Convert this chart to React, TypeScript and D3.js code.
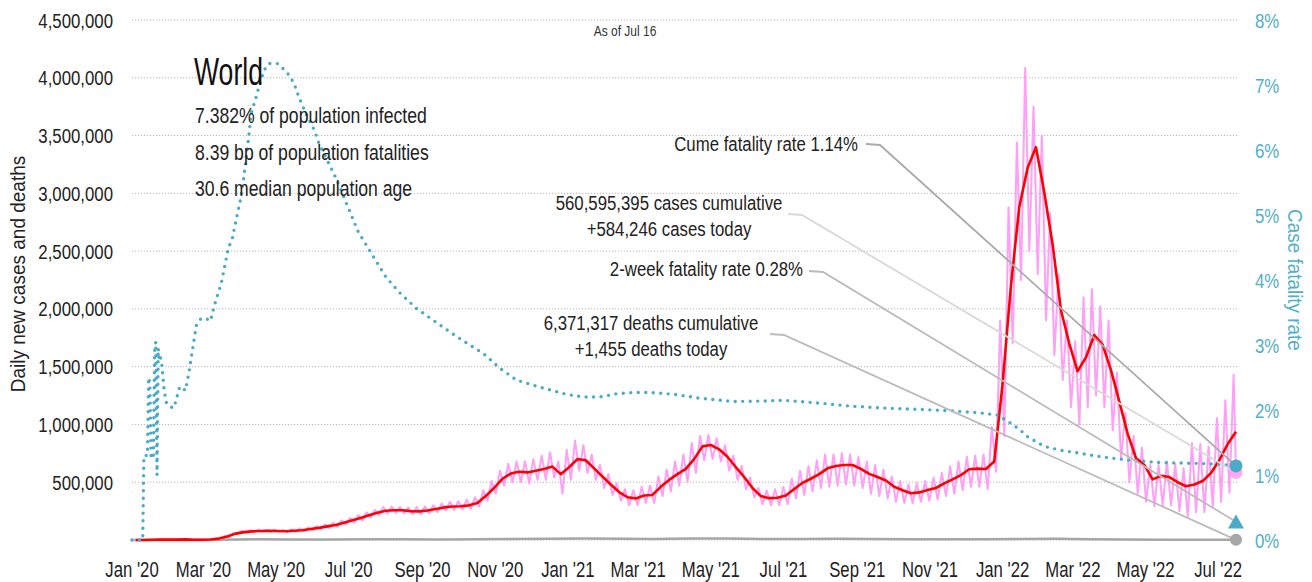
import React from 'react';
import * as d3 from 'd3';

const W = 1312;
const H = 582;
const FONT = "'Liberation Sans', Arial, sans-serif";

// weekly 7-day average of new cases (thousands), weeks ending Jan 4 2020 ... Jul 16 2022
const avgCases = [
  0, 0.5, 2, 3, 3, 3, 5, 2, 2, 4,
  12, 30, 55, 68, 75, 78, 80, 78, 76, 80,
  85, 95, 105, 118, 130, 150, 170, 190, 215, 236,
  253, 258, 258, 250, 248, 255, 268, 282, 290, 292,
  300, 320, 380, 450, 530, 575, 590, 585, 600, 615,
  635, 570, 630, 700, 690, 620, 550, 480, 415, 370,
  360, 385, 390, 460, 520, 570, 615, 700, 810, 822,
  785, 720, 630, 545, 450, 380, 362, 365, 385, 440,
  495, 530, 570, 620, 640, 649, 649, 615, 572, 545,
  515, 461, 430, 404, 412, 433, 450, 490, 525, 562,
  612, 618, 615, 680, 1350, 2200, 2880, 3220, 3400, 3010,
  2560, 1990, 1700, 1460, 1580, 1774, 1690, 1470, 1200, 920,
  710, 650, 525, 555, 545, 500, 465, 480, 510, 580,
  690, 830, 937,
];

// daily new cases: weekly highs and lows (thousands)
const dailyPeaks = [
  0, 1, 3, 4, 4, 5, 6, 3, 3, 5,
  16, 35, 62, 78, 85, 90, 88, 90, 85, 92,
  100, 110, 120, 135, 150, 170, 190, 215, 240, 260,
  285, 290, 285, 280, 285, 290, 300, 315, 330, 335,
  350, 370, 430, 510, 600, 660, 680, 680, 700, 730,
  760, 680, 780, 860, 820, 740, 650, 570, 490, 440,
  430, 460, 470, 550, 610, 680, 740, 840, 900, 910,
  880, 820, 730, 640, 540, 450, 430, 440, 460, 530,
  600, 640, 690, 740, 740, 750, 740, 720, 680, 650,
  610, 550, 510, 480, 490, 510, 540, 580, 640, 680,
  720, 730, 740, 980, 1900, 2880, 3440, 4085, 3750, 3500,
  2830, 2300, 1900, 1720, 2100, 2170, 2020, 1900, 1450, 1100,
  900, 800, 650, 650, 680, 660, 620, 840, 830, 810,
  1055, 1210, 1430,
];
const dailyTroughs = [
  0, 0, 1, 2, 2, 2, 2, 1, 1, 3,
  10, 25, 50, 60, 68, 70, 70, 70, 68, 72,
  78, 85, 95, 105, 115, 135, 150, 170, 195, 215,
  230, 235, 230, 225, 225, 230, 240, 255, 260, 265,
  270, 290, 340, 400, 470, 500, 500, 490, 520, 520,
  540, 400, 520, 600, 580, 520, 450, 390, 340, 300,
  300, 320, 320, 380, 420, 470, 500, 580, 690, 700,
  680, 600, 520, 440, 370, 310, 300, 300, 310, 360,
  390, 420, 450, 460, 470, 480, 470, 450, 400, 380,
  360, 330, 320, 320, 330, 340, 350, 380, 400, 430,
  460, 460, 440, 590, 900, 1700, 2250, 2500, 2300, 1900,
  1600, 1385, 1150, 1000, 1150, 1250, 1150, 950, 700, 500,
  400, 330, 290, 300, 300, 250, 200, 240, 240, 290,
  330, 410,
];
const casesToday = 584246;

// case fatality rate, [days since Jan 1 2020, percent]
const cfrPoints: [number, number][] = [
  [0, 0], [9, 0], [10, 1.3], [13, 1.3], [14, 2.5], [15, 2.4], [16, 1.25], [18, 1.3],
  [19, 2.9], [20, 3.05], [21, 1.0], [22, 2.95], [23, 2.75], [24, 2.8], [25, 2.7],
  [26, 2.5], [27, 2.3], [29, 2.1], [32, 2.05], [35, 2.03], [37, 2.15], [40, 2.36],
  [45, 2.3], [48, 2.6], [51, 2.95], [54, 3.3], [58, 3.41], [62, 3.41], [66, 3.37],
  [69, 3.6], [75, 3.95], [81, 4.5], [84, 4.62], [88, 4.97], [91, 5.23], [94, 5.59],
  [98, 6.2], [100, 6.56], [104, 6.8], [107, 7.0], [111, 7.23], [115, 7.33], [122, 7.33],
  [130, 7.2], [136, 7.03], [140, 6.82], [146, 6.56], [153, 6.31], [157, 6.1], [163, 5.88],
  [172, 5.54], [180, 5.18], [190, 4.74], [200, 4.44], [213, 4.05], [225, 3.8], [239, 3.56],
  [253, 3.38], [267, 3.2], [281, 3.03], [295, 2.87], [309, 2.64], [323, 2.46], [337, 2.38],
  [351, 2.31], [365, 2.24], [379, 2.2], [393, 2.2], [407, 2.25], [421, 2.27], [435, 2.27],
  [456, 2.24], [477, 2.18], [505, 2.13], [533, 2.14], [547, 2.15], [575, 2.11], [603, 2.06],
  [631, 2.03], [659, 2.01], [687, 1.99], [715, 1.95], [727, 1.92], [736, 1.82], [746, 1.69],
  [752, 1.59], [766, 1.44], [780, 1.38], [794, 1.34], [814, 1.28], [836, 1.23], [864, 1.19],
  [892, 1.18], [909, 1.17], [927, 1.14],
];

// daily deaths (thousands), mid-month Jan 2020 ... Jul 2022
const deathsMonthly = [
  0.01, 0.1, 1.5, 7, 4.5, 4.7, 5.5, 5.8, 5.4, 6, 9.5, 11.5,
  14, 10.5, 9.5, 12.5, 12.5, 9, 8.5, 10, 8.5, 7, 7, 7,
  9, 10.5, 6, 3.5, 2, 1.5, 1.8,
];
const deathsToday = 1455;
const cumeFatality = 1.14;
const twoWeekFatality = 0.28;

const leftTicks = [500000, 1000000, 1500000, 2000000, 2500000, 3000000, 3500000, 4000000, 4500000];
const rightTicks = [0, 1, 2, 3, 4, 5, 6, 7, 8];
const infoLines = [
  '7.382% of population infected',
  '8.39 bp of population fatalities',
  '30.6 median population age',
];

const start = new Date(2020, 0, 1);
const end = new Date(2022, 6, 16);

// condensed text: the regular sans squeezed horizontally
const T = ({ x, y, k = 0.8, rot = 0, anchor = 'start', size = 21, fill = '#222', dy, children }: any) => (
  <text
    transform={`translate(${x},${y})${rot ? ` rotate(${rot})` : ''} scale(${k},1)`}
    textAnchor={anchor}
    fontSize={size}
    fill={fill}
    dy={dy}
  >
    {children}
  </text>
);

export default function App() {
  const x = d3.scaleTime().domain([start, end]).range([132, 1236]);
  const yL = d3.scaleLinear().domain([0, 4500000]).range([540, 20]);
  const yR = d3.scaleLinear().domain([0, 8]).range([540, 20]);
  const day = (n: number) => d3.timeHour.offset(start, n * 24);

  const avgPts = avgCases.map((v, i) => [x(day(3 + 7 * i)), yL(v * 1000)] as [number, number]);
  const dailyPts: [number, number][] = [];
  dailyPeaks.forEach((v, i) => {
    dailyPts.push([x(day(1 + 7 * i)), yL(v * 1000)]);
    if (i < dailyTroughs.length) dailyPts.push([x(day(4.5 + 7 * i)), yL(dailyTroughs[i] * 1000)]);
  });
  dailyPts.push([x(end), yL(casesToday)]);
  const cfrPts = cfrPoints.map(([d, v]) => [x(day(d)), yR(v)] as [number, number]);
  const deathPts = deathsMonthly.map((v, i) => [x(new Date(2020, i, 15)), yL(v * 1000)] as [number, number]);
  deathPts.unshift([x(start), yL(0)]);
  deathPts.push([x(end), yL(deathsToday)]);

  const line = d3.line();
  const xTicks = d3.timeMonth.range(start, new Date(2022, 7, 1), 2);
  const fmt = d3.timeFormat("%b '%y");

  const ex = x(end);
  const annotations = [
    { lines: ['Cume fatality rate 1.14%'], tx: 858, ty: 151, anchor: 'end', from: [866, 144], color: '#aaa', to: yR(cumeFatality) },
    { lines: ['560,595,395 cases cumulative', '+584,246 cases today'], tx: 669, ty: 210, anchor: 'middle', from: [788, 214], color: '#d9d9d9', to: yL(casesToday) },
    { lines: ['2-week fatality rate 0.28%'], tx: 803, ty: 276, anchor: 'end', from: [809, 271], color: '#bbb', to: yR(twoWeekFatality) },
    { lines: ['6,371,317 deaths cumulative', '+1,455 deaths today'], tx: 651, ty: 330, anchor: 'middle', from: [770, 334], color: '#bbb', to: yL(deathsToday) },
  ];

  const tri = d3.symbol(d3.symbolTriangle, 110)();

  return (
    <svg width={W} height={H} style={{ position: 'absolute', left: 0, top: 0, fontFamily: FONT }}>
      <rect width={W} height={H} fill="#fff" />
      {[0, ...leftTicks].map(t => (
        <line key={t} x1={132} x2={1238} y1={yL(t)} y2={yL(t)} stroke="#b5b5b5" strokeWidth={1} strokeDasharray="1.2,1.8" />
      ))}
      {leftTicks.map(t => (
        <T key={t} x={113} y={yL(t)} dy="0.36em" anchor="end">{d3.format(',')(t)}</T>
      ))}
      {rightTicks.map(t => (
        <T key={t} x={1255} y={yR(t)} dy="0.36em" fill="#52aec9">{t}%</T>
      ))}
      {xTicks.map(d => (
        <T key={+d} x={x(d)} y={577} anchor="middle" size={22} k={0.76}>{fmt(d)}</T>
      ))}
      <T x={25} y={274} rot={-90} anchor="middle" size={20} k={0.95}>Daily new cases and deaths</T>
      <T x={1288} y={280} rot={90} anchor="middle" k={0.9} fill="#52aec9">Case fatality rate</T>
      <T x={625} y={36} anchor="middle" size={15} fill="#333">As of Jul 16</T>

      <path d={line(deathPts) || ''} fill="none" stroke="#a6a6a6" strokeWidth={2.5} />
      <path d={line(dailyPts) || ''} fill="none" stroke="#ff9ff5" strokeWidth={2} strokeLinejoin="round" />
      <path d={line(avgPts) || ''} fill="none" stroke="#ff0000" strokeWidth={2.6} strokeLinejoin="round" />
      <path d={line(cfrPts) || ''} fill="none" stroke="#4aabc7" strokeWidth={3.4} strokeDasharray="0,7.5" strokeLinecap="round" />

      <T x={194} y={85} size={38} k={0.7} fill="#111">World</T>
      {infoLines.map((t, i) => (
        <T key={t} x={195} y={123 + i * 36.5} size={22}>{t}</T>
      ))}

      {annotations.map(a => (
        <g key={a.lines[0]}>
          {a.lines.map((t, i) => (
            <T key={t} x={a.tx} y={a.ty + i * 26} anchor={a.anchor}>{t}</T>
          ))}
          <polyline points={`${a.from[0]},${a.from[1]} ${a.from[0] + 14},${a.from[1] + 1} ${ex},${a.to}`} fill="none" stroke={a.color} strokeWidth={1.8} />
        </g>
      ))}

      <circle cx={ex} cy={yL(deathsToday)} r={6} fill="#a6a6a6" />
      <path d={tri} transform={`translate(${ex},${yR(twoWeekFatality) + 2})`} fill="#4aabc7" />
      <circle cx={ex} cy={yL(casesToday)} r={6.5} fill="#ffa8f5" />
      <circle cx={ex} cy={yR(cumeFatality)} r={6.5} fill="#4aabc7" />
    </svg>
  );
}
